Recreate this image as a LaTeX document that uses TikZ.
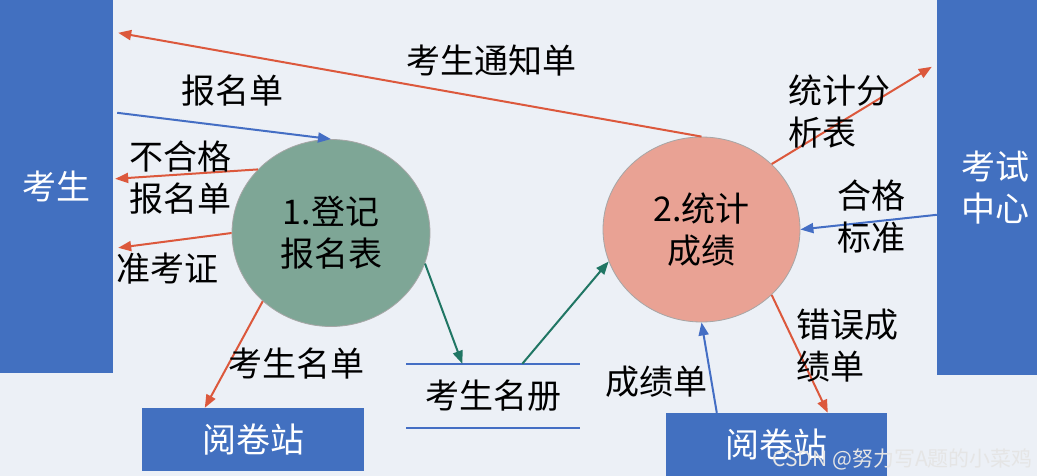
\documentclass[tikz,border=0pt]{standalone}
\usepackage{fontspec}
\setmainfont{Noto Sans CJK SC}
\usepackage{xcolor}
\usetikzlibrary{positioning,arrows.meta,shapes.geometric}

\definecolor{bgcol}{RGB}{236,240,246}
\definecolor{barblue}{RGB}{66,112,192}
\definecolor{arrred}{RGB}{220,88,60}
\definecolor{arrblue}{RGB}{68,110,196}
\definecolor{arrteal}{RGB}{32,118,100}
\definecolor{greenfill}{RGB}{126,166,150}
\definecolor{pinkfill}{RGB}{233,162,148}

\begin{document}
\begin{tikzpicture}[
  x=1pt, y=-1pt,
  font=\fontsize{34}{42}\selectfont,
  line/.style={-{Triangle[length=13pt,width=10pt]}, line width=2pt},
  redline/.style={line, draw=arrred, color=arrred},
  blueline/.style={line, draw=arrblue, color=arrblue},
  tealline/.style={line, draw=arrteal, color=arrteal},
  bar/.style={draw=none, fill=barblue, text=white, inner sep=0pt, align=center},
  proc/.style={ellipse, draw=gray!70, line width=0.8pt, inner sep=0pt, align=center, minimum width=198pt, minimum height=187pt},
  store/.style={draw=none, inner sep=0pt, minimum width=173pt, minimum height=64pt},
  lbl/.style={inner sep=0pt, align=center}
]
\useasboundingbox (0,0) rectangle (1037,476);
\fill[bgcol] (0,0) rectangle (1037,476);

% Externals and processes
\node[bar, minimum width=113pt, minimum height=373pt] (stu) at (56.5,186.5) {考生};
\node[bar, minimum width=100pt, minimum height=375pt, text width=84pt, align=right] (ctr) at (987,187.5) {考试\\中心};
\node[proc, fill=greenfill] (reg) at (331,233) {1.登记\\报名表};
\node[proc, fill=pinkfill, minimum width=197pt, minimum height=185pt] (stat) at (701.5,229.5) {2.统计\\成绩};
\node[bar, minimum width=222pt, minimum height=63pt] (mkl) at (253,439.5) {阅卷站};
\node[bar, minimum width=221pt, minimum height=63pt] (mkr) at (776.5,444.5) {阅卷站};

% Data store
\node[store] (book) at (493,396) {考生名册};
\draw[arrblue, line width=2pt] (book.north west) -- (book.north east);
\draw[arrblue, line width=2pt] (book.south west) -- (book.south east);

% Flows
\draw[redline] (stat.north) -- ([shift={(5,33)}]stu.north east);
\node[lbl] (notice) at (491,61) {考生通知单};

\draw[blueline] ([shift={(4,113)}]stu.north east) -- (reg.north);
\node[lbl] (apply) at (232,91) {报名单};

\draw[redline] (reg.139) -- ([shift={(2,179)}]stu.north east);
\node[lbl] (reject) at (180,178) {不合格\\报名单};

\draw[redline] (reg.west) -- ([shift={(5,248)}]stu.north east);
\node[lbl] (ticket) at (167,269) {准考证};

\draw[redline] (reg.225) -- ([shift={(63,0)}]mkl.north west);
\node[lbl] (names) at (296,364) {考生名单};

\draw[tealline] (reg.342) -- ([shift={(56,0)}]book.north west);
\draw[tealline] ([shift={(116,0)}]book.north west) -- (stat.199);

\draw[redline] (stat.43) -- ([shift={(-5,67)}]ctr.north west);
\node[lbl, align=left, anchor=west] (report) at (788,112) {统计分\\析表};

\draw[blueline] ([shift={(0,215)}]ctr.north west) -- (stat.east);
\node[lbl] (pass) at (871,217) {合格\\标准};

\draw[blueline] ([shift={(51,0)}]mkr.north west) -- (stat.south);
\node[lbl] (scores) at (656,382) {成绩单};

\draw[redline] (stat.317) -- ([shift={(162,0)}]mkr.north west);
\node[lbl, align=left, anchor=west] (errors) at (796,346) {错误成\\绩单};

% watermark
\node[lbl, anchor=east, text=white!80!gray, font=\fontsize{21}{24}\selectfont] (mark) at (1033,459) {CSDN @努力写A题的小菜鸡};
\end{tikzpicture}
\end{document}
